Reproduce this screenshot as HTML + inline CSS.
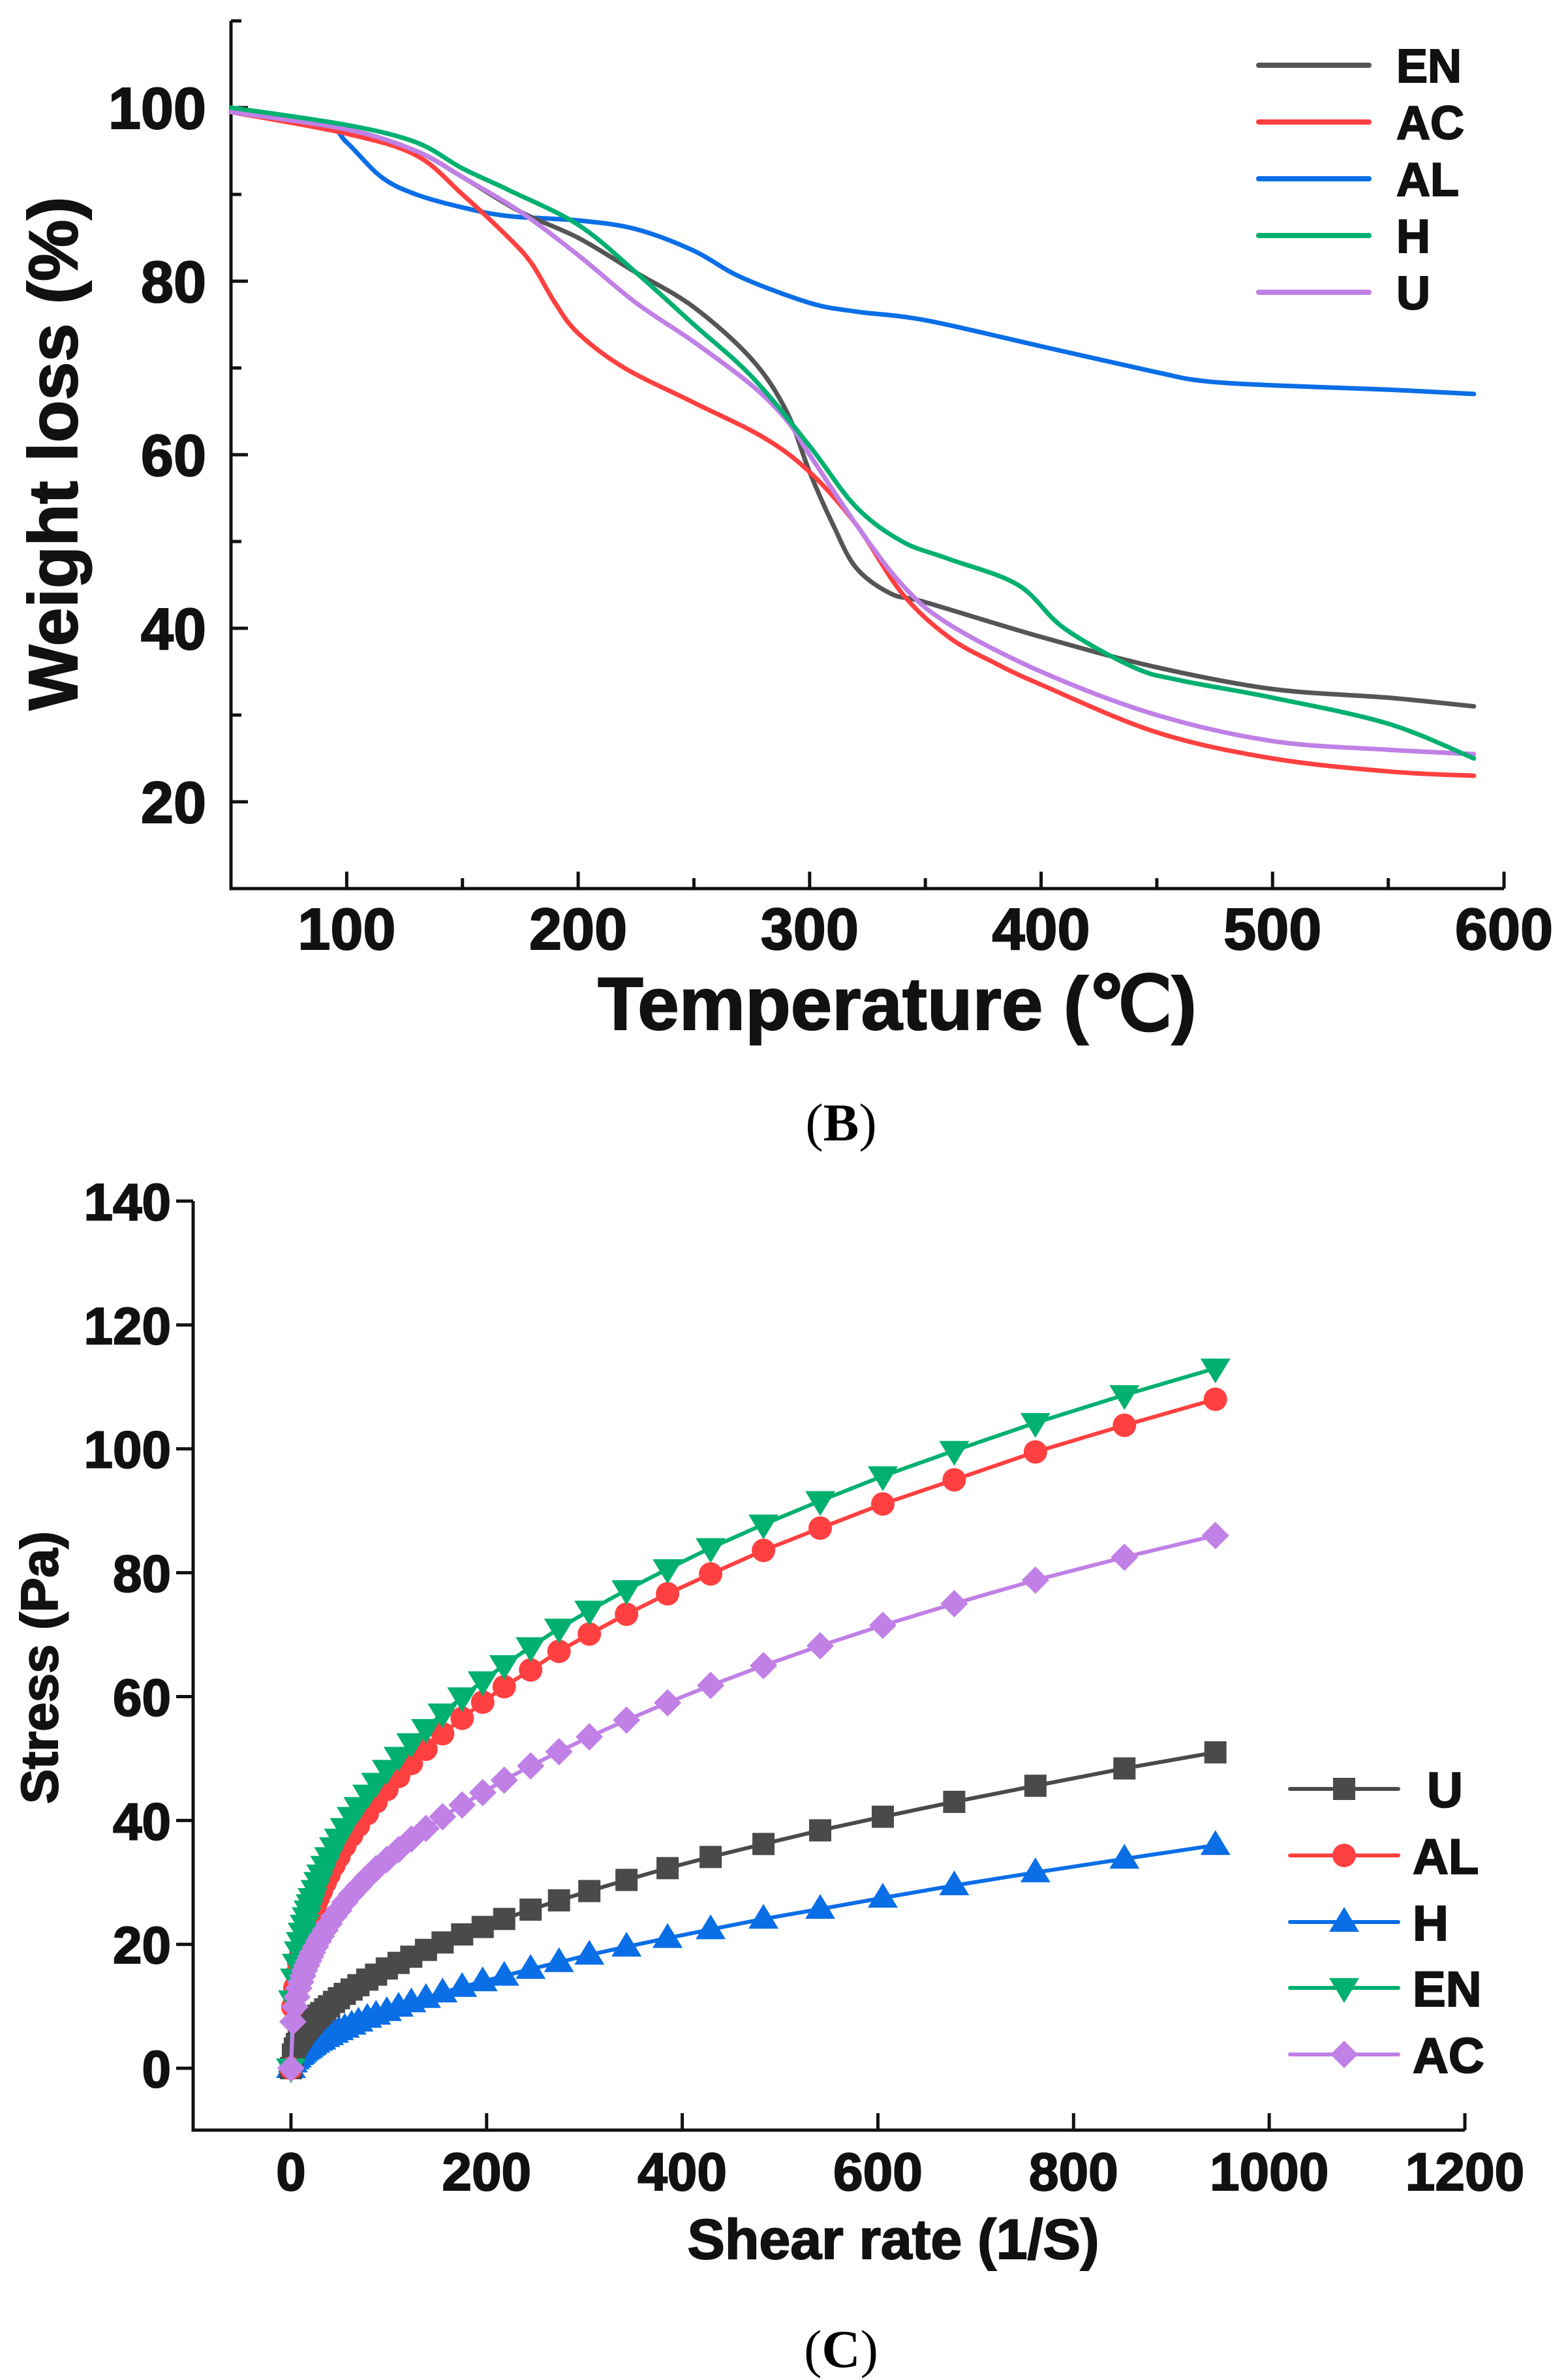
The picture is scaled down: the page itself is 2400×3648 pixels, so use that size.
<!DOCTYPE html>
<html><head><meta charset="utf-8"><style>
html,body{margin:0;padding:0;background:#fff;}
svg{display:block;font-family:"Liberation Sans",sans-serif;}
</style></head><body>
<svg id="fig" width="2400" height="3648" viewBox="0 0 2400 3648" xmlns="http://www.w3.org/2000/svg">
<rect width="2400" height="3648" fill="#fff"/>
<g id="chartB"></g>
<g id="chartC"></g>
<text x="1289" y="1748" text-anchor="middle" font-family="Liberation Serif, serif" font-size="82">(<tspan font-weight="bold">B</tspan>)</text>
<text x="1289" y="3628" text-anchor="middle" font-family="Liberation Serif, serif" font-size="82">(<tspan font-weight="bold">C</tspan>)</text>
</svg>
<script>
// ---- Chart B data (TGA) ----
const bSeriesNames = ["EN","AC","AL","H","U"];
const bColors = ["#555555","#ff4040","#0a6ee6","#00b070","#c080e6"];
const bXTicks = [100,200,300,400,500,600];
const bYTicks = [20,40,60,80,100];
const enT = [50,100,130,150,175,200,225,250,275,290,300,310,320,335,350,400,450,500,550,587];
const enW = [99.5,97.5,95,92,88,85,81,77,71,65,58,52,47,44,43,39,35.5,33,32,31];
const acT = [50,100,130,150,170,180,190,200,220,250,280,300,320,340,360,380,400,450,500,550,587];
const acW = [99.5,97,94.5,90,85,82,77.5,74,70,66,62,58,52,44,39,36,33.5,28,25,23.5,23];
const alT = [50,90,100,115,130,150,170,200,225,250,270,300,320,350,400,450,470,500,550,587];
const alW = [99.5,98,96,92,90,88.5,87.5,87,86,83.5,80.5,77.5,76.5,75.5,72.5,69.5,68.5,68,67.5,67];
const hT = [50,100,130,150,170,200,225,250,275,300,320,340,360,390,410,440,460,500,550,587];
const hW = [100,98,96,93,90.5,86.5,81,75,69,61,54,50,48,45,40,35.5,34,32,29,25];
const uT = [50,100,130,150,175,200,225,250,275,290,300,320,340,360,400,450,500,550,587];
const uW = [99.5,97.5,95,92,88,83,77.5,73,68,64,60,52,45,40.5,35,30,27,26,25.5];

// ---- Chart C data (rheology) ----
const cSeriesNames = ["U","AL","H","EN","AC"];
const cColors = ["#4a4a4a","#ff4040","#0a6ee6","#00b070","#c080e6"];
const cMarkers = ["square","circle","triangle","invtriangle","diamond"];
const cXTicks = [0,200,400,600,800,1000,1200];
const cYTicks = [0,20,40,60,80,100,120,140];
const shearRate = [945,852,761,678,605,541,483,429,385,343,305,274,245,218,196,175,155,138,123,110,98,87,78,69,62,55,49,44,39,35,31,28,25,22,20,18,16,14,12,10,8,6,4,2,0];
const stressU = [51,48.4,45.6,43,40.6,38.4,36.2,34.1,32.3,30.4,28.6,27.1,25.6,24.1,22.8,21.6,20.3,19.1,18,17,16.1,15.1,14.3,13.4,12.7,12,11.3,10.7,10,9.5,8.9,8.5,8,7.5,7.1,6.8,6.4,6,5.5,5,4.5,3.9,3.2,2.2,0];
const stressAL = [108,103.8,99.5,95,91.1,87.2,83.6,79.8,76.6,73.3,70.1,67.3,64.3,61.6,59.1,56.5,54,51.5,49.2,47.1,45,43,41.1,39.2,37.6,35.9,34.2,32.8,31.3,30,28.6,27.5,26.2,25,24,23.1,22,20.9,19.7,18.4,17,15.2,13,9.9,0];
const stressH = [36,33.8,31.6,29.5,27.5,25.7,24.1,22.4,21,19.6,18.3,17.1,16,14.9,14,13.1,12.2,11.3,10.6,9.9,9.2,8.6,8.1,7.5,7,6.5,6.1,5.7,5.3,5,4.6,4.4,4.1,3.8,3.6,3.3,3.1,2.9,2.6,2.3,2.1,1.7,1.4,0.9,0];
const stressEN = [113,108.7,104.2,99.7,95.6,91.6,87.8,84,80.6,77.2,73.9,71,68,65.1,62.5,59.9,57.3,54.8,52.5,50.3,48.2,46.1,44.2,42.2,40.6,38.8,37.1,35.7,34.1,32.7,31.3,30.1,28.8,27.5,26.5,25.5,24.4,23.2,21.9,20.4,18.9,16.9,14.5,11,0];
const stressAC = [86,82.5,78.8,75,71.5,68.2,65,61.8,59,56.2,53.5,51.1,48.8,46.5,44.5,42.5,40.6,38.7,37,35.3,33.7,32.2,30.8,29.3,28.1,26.8,25.5,24.5,23.3,22.3,21.3,20.5,19.6,18.7,18,17.3,16.6,15.8,14.9,13.9,12.9,11.5,9.9,7.5,0];

const NS="http://www.w3.org/2000/svg";
function mk(tag, attrs, parent){const e=document.createElementNS(NS,tag);for(const k in attrs)e.setAttribute(k,attrs[k]);parent.appendChild(e);return e;}
const heavy={'font-weight':'bold',fill:'#111',stroke:'#111','stroke-width':2};

// ===== Chart B =====
(function(){
  const g=document.getElementById('chartB');
  const X0=354,X1=2305,xmin=50,xmax=600;
  const Y0=1362,Y1=32,ymin=10,ymax=110;
  const sx=v=>X0+(v-xmin)/(xmax-xmin)*(X1-X0);
  const sy=v=>Y0-(v-ymin)/(ymax-ymin)*(Y0-Y1);
  const ax=mk('path',{d:`M${X0},${Y1} V${Y0} H${X1}`,fill:'none',stroke:'#111','stroke-width':5},g);
  
  
  for(let v=50;v<=600;v+=50){
    const major=v%100===0;
    const t=mk('line',{x1:sx(v),x2:sx(v),y1:Y0,y2:Y0-(major?26:16),stroke:'#111','stroke-width':5},g);
    
    
  }
  bXTicks.forEach(v=>{
    const t=mk('text',Object.assign({x:sx(v),y:1455,'text-anchor':'middle','font-size':90},heavy),g);
    t.textContent=v;
    
    
  });
  for(let v=10;v<=110;v+=10){
    const major=v%20===0;
    const t=mk('line',{x1:X0,x2:X0+(major?26:16),y1:sy(v),y2:sy(v),stroke:'#111','stroke-width':5},g);
    
    
  }
  bYTicks.forEach(v=>{
    const t=mk('text',Object.assign({x:316,y:sy(v)+32,'text-anchor':'end','font-size':90},heavy),g);
    t.textContent=v;
    
    
  });
  const xt=mk('text',Object.assign({x:1375,y:1578,'text-anchor':'middle','font-size':114},heavy),g);
  xt.textContent='Temperature (℃)';
  
  
  const yt=mk('text',Object.assign({x:0,y:0,'text-anchor':'middle','font-size':106,transform:'translate(118,695) rotate(-90)'},heavy),g);
  yt.textContent='Weight loss (%)';
  
  
  function smooth(xs,ys){
    const p=xs.map((x,i)=>[sx(x),sy(ys[i])]);
    let d=`M${p[0][0]},${p[0][1]}`;
    for(let i=0;i<p.length-1;i++){
      const p0=p[Math.max(0,i-1)],p1=p[i],p2=p[i+1],p3=p[Math.min(p.length-1,i+2)];
      const c1=[p1[0]+(p2[0]-p0[0])/6,p1[1]+(p2[1]-p0[1])/6];
      const c2=[p2[0]-(p3[0]-p1[0])/6,p2[1]-(p3[1]-p1[1])/6];
      d+=` C${c1[0]},${c1[1]} ${c2[0]},${c2[1]} ${p2[0]},${p2[1]}`;
    }
    return d;
  }
  const data=[[enT,enW],[acT,acW],[alT,alW],[hT,hW],[uT,uW]];
  const order=[2,0,1,4,3];
  order.forEach(i=>{
    const l=mk('path',{d:smooth(data[i][0],data[i][1]),fill:'none',stroke:bColors[i],'stroke-width':7,'stroke-linejoin':'round','stroke-linecap':'round'},g);
    
    
  });
  const legY=[100,187,274,361,448];
  bSeriesNames.forEach((n,i)=>{
    const lg=mk('g',{},g);
    
    
    mk('line',{x1:1929,x2:2098,y1:legY[i],y2:legY[i],stroke:bColors[i],'stroke-width':8,'stroke-linecap':'round'},lg);
    const t=mk('text',Object.assign({x:2140,y:legY[i]+26,'font-size':72},heavy),lg);
    t.textContent=n;
  });
})();

// ===== Chart C =====
(function(){
  const g=document.getElementById('chartC');
  const X0=296,X1=2245,xmin=-100,xmax=1200;
  const Y0=3265,Y1=1841,ymin=-10,ymax=140;
  const sx=v=>X0+(v-xmin)/(xmax-xmin)*(X1-X0);
  const sy=v=>Y0-(v-ymin)/(ymax-ymin)*(Y0-Y1);
  const ax=mk('path',{d:`M${X0},${Y1} V${Y0} H${X1}`,fill:'none',stroke:'#111','stroke-width':5},g);
  
  
  cXTicks.forEach(v=>{
    const t=mk('line',{x1:sx(v),x2:sx(v),y1:Y0,y2:Y0-26,stroke:'#111','stroke-width':5},g);
    
    
    const l=mk('text',Object.assign({x:sx(v),y:3357,'text-anchor':'middle','font-size':82},heavy),g);
    l.textContent=v;
    
    
  });
  cYTicks.forEach(v=>{
    const t=mk('line',{x1:X0,x2:X0-26,y1:sy(v),y2:sy(v),stroke:'#111','stroke-width':5},g);
    
    
    const l=mk('text',Object.assign({x:262,y:sy(v)+29,'text-anchor':'end','font-size':80},heavy),g);
    l.textContent=v;
    
    
  });
  const xt=mk('text',Object.assign({x:1369,y:3462,'text-anchor':'middle','font-size':86},heavy),g);
  xt.textContent='Shear rate (1/S)';
  
  
  const yt=mk('text',Object.assign({x:0,y:0,'text-anchor':'middle','font-size':80,transform:'translate(88,2556) rotate(-90)'},heavy),g);
  yt.textContent='Stress (Pa)';
  
  
  function marker(type,x,y,color,parent){
    if(type==='square') return mk('rect',{x:x-17,y:y-17,width:34,height:34,fill:color},parent);
    if(type==='circle') return mk('circle',{cx:x,cy:y,r:18,fill:color},parent);
    if(type==='triangle') return mk('path',{d:`M${x},${y-23} L${x+23},${y+15} L${x-23},${y+15}Z`,fill:color},parent);
    if(type==='invtriangle') return mk('path',{d:`M${x},${y+23} L${x+23},${y-15} L${x-23},${y-15}Z`,fill:color},parent);
    return mk('path',{d:`M${x},${y-21} L${x+21},${y} L${x},${y+21} L${x-21},${y}Z`,fill:color},parent);
  }
  const vals=[stressU,stressAL,stressH,stressEN,stressAC];
  const order=[2,0,1,3,4];
  order.forEach(i=>{
    const sg=mk('g',{},g);
    
    
    const pts=shearRate.map((x,k)=>`${sx(x)},${sy(vals[i][k])}`).join(' ');
    mk('polyline',{points:pts,fill:'none',stroke:cColors[i],'stroke-width':6,'stroke-linejoin':'round'},sg);
    shearRate.forEach((x,k)=>{
      const m=marker(cMarkers[i],sx(x),sy(vals[i][k]),cColors[i],sg);
      
      
    });
  });
  const legY=[2742,2844,2946,3047,3149];
  cSeriesNames.forEach((n,i)=>{
    const lg=mk('g',{},g);
    
    
    mk('line',{x1:1977,x2:2143,y1:legY[i],y2:legY[i],stroke:cColors[i],'stroke-width':6,'stroke-linecap':'round'},lg);
    marker(cMarkers[i],2060,legY[i],cColors[i],lg);
    const t=mk('text',Object.assign({x:(n==='U'?2187:2165),y:legY[i]+28,'font-size':76},heavy),lg);
    t.textContent=n;
  });
})();
</script>
</body></html>
